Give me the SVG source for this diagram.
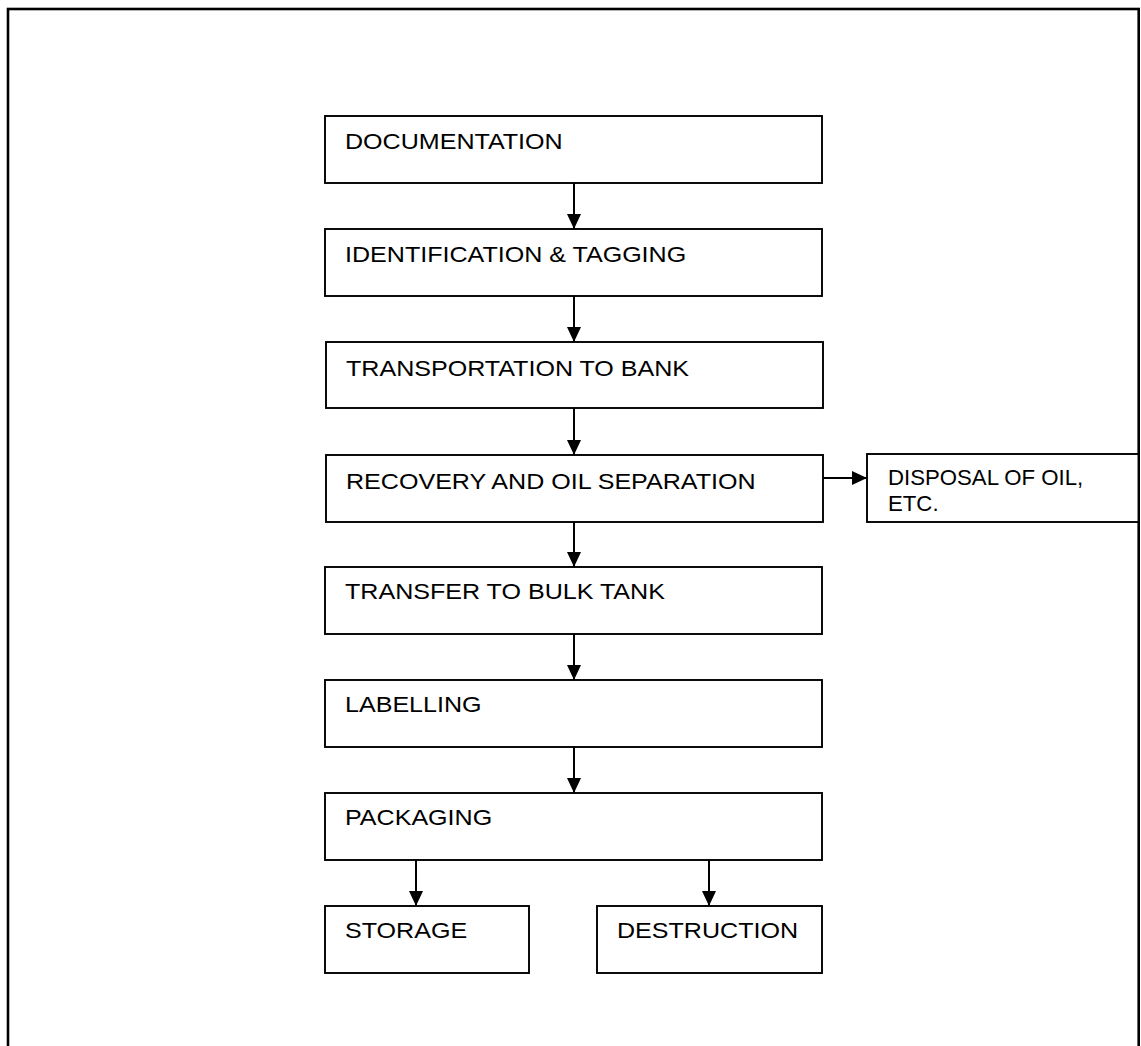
<svg xmlns="http://www.w3.org/2000/svg" width="1141" height="1046" viewBox="0 0 1141 1046">
  <defs>
    <style>
      .frame { fill: none; stroke: #000; stroke-width: 2.6; }
      .box { fill: #fff; stroke: #000; stroke-width: 1.9; }
      .lbl { font-family: "Liberation Sans", Arial, sans-serif; font-size: 22.8px; fill: #000; }
      .small { font-family: "Liberation Sans", Arial, sans-serif; font-size: 22.2px; fill: #000; }
      .link { fill: none; stroke: #000; stroke-width: 2; marker-end: url(#head); }
    </style>
    <marker id="head" markerUnits="userSpaceOnUse" markerWidth="15" markerHeight="14" refX="15" refY="7" orient="auto">
      <path d="M0,0 L15,7 L0,14 Z" fill="#000"/>
    </marker>
  </defs>

  <rect width="1141" height="1046" fill="#fff"/>
  <!-- page frame (open at the bottom edge of the view) -->
  <rect class="frame" x="8" y="9" width="1130.7" height="1100"/>

  <!-- connectors -->
  <g id="connectors">
    <line class="link" x1="574" y1="183" x2="574" y2="229"/>
    <line class="link" x1="574" y1="296" x2="574" y2="342"/>
    <line class="link" x1="574" y1="408" x2="574" y2="455"/>
    <line class="link" x1="574" y1="522" x2="574" y2="567"/>
    <line class="link" x1="574" y1="634" x2="574" y2="680"/>
    <line class="link" x1="574" y1="747" x2="574" y2="793"/>
    <line class="link" x1="416" y1="860" x2="416" y2="906"/>
    <line class="link" x1="709" y1="860" x2="709" y2="906"/>
    <line class="link" x1="823" y1="478" x2="867" y2="478"/>
  </g>

  <g id="documentation">
    <rect class="box" x="325" y="116" width="497" height="67"/>
    <text class="lbl" transform="translate(345 149) scale(1.1 1)">DOCUMENTATION</text>
  </g>
  <g id="identification">
    <rect class="box" x="325" y="229" width="497" height="67"/>
    <text class="lbl" transform="translate(345 262) scale(1.1 1)">IDENTIFICATION &amp; TAGGING</text>
  </g>
  <g id="transportation">
    <rect class="box" x="326" y="342" width="497" height="66"/>
    <text class="lbl" transform="translate(346 376) scale(1.1 1)">TRANSPORTATION TO BANK</text>
  </g>
  <g id="recovery">
    <rect class="box" x="326" y="455" width="497" height="67"/>
    <text class="lbl" transform="translate(346 489) scale(1.1 1)">RECOVERY AND OIL SEPARATION</text>
  </g>
  <g id="disposal">
    <rect class="box" x="867" y="454" width="271.5" height="68"/>
    <text class="small" x="888" y="485">DISPOSAL OF OIL,</text>
    <text class="small" x="888" y="511">ETC.</text>
  </g>
  <g id="transfer">
    <rect class="box" x="325" y="567" width="497" height="67"/>
    <text class="lbl" transform="translate(345 599) scale(1.1 1)">TRANSFER TO BULK TANK</text>
  </g>
  <g id="labelling">
    <rect class="box" x="325" y="680" width="497" height="67"/>
    <text class="lbl" transform="translate(345 712) scale(1.1 1)">LABELLING</text>
  </g>
  <g id="packaging">
    <rect class="box" x="325" y="793" width="497" height="67"/>
    <text class="lbl" transform="translate(345 825) scale(1.1 1)">PACKAGING</text>
  </g>
  <g id="storage">
    <rect class="box" x="325" y="906" width="204" height="67"/>
    <text class="lbl" transform="translate(345 938) scale(1.1 1)">STORAGE</text>
  </g>
  <g id="destruction">
    <rect class="box" x="597" y="906" width="225" height="67"/>
    <text class="lbl" transform="translate(617 938) scale(1.1 1)">DESTRUCTION</text>
  </g>
</svg>
